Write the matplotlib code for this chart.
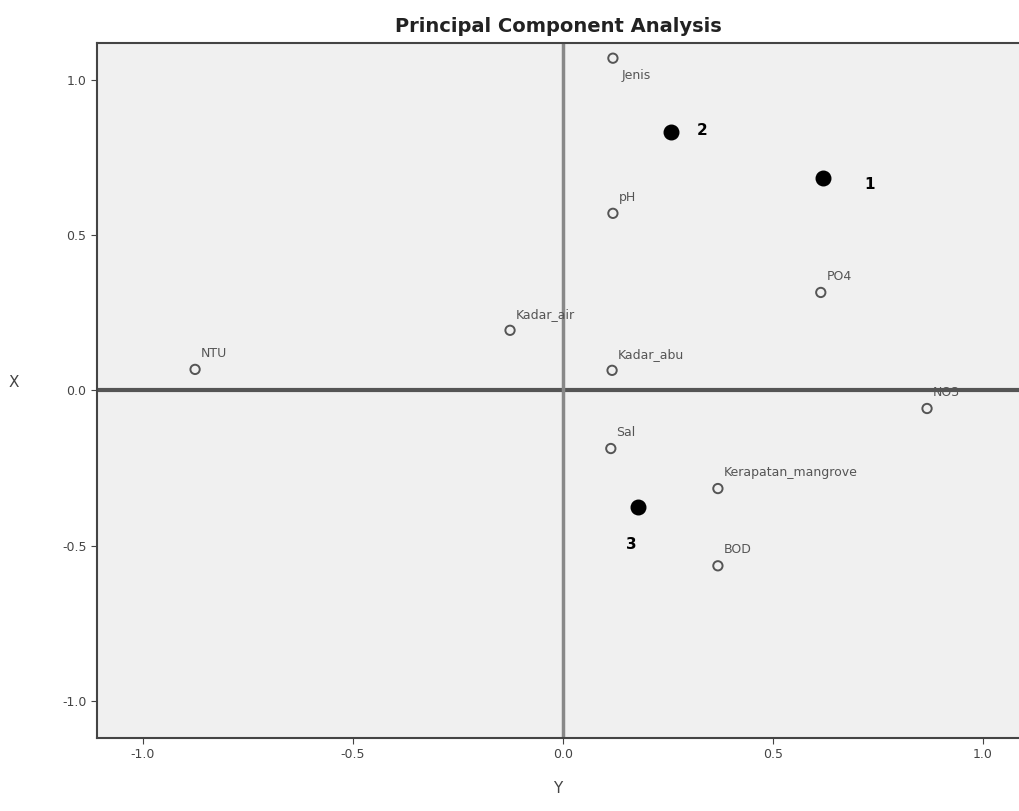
import matplotlib.pyplot as plt

# variable loadings (component Y on x axis, component X on y axis)
var_names = ['Jenis', 'pH', 'PO4', 'Kadar_air', 'Kadar_abu', 'NTU', 'NO3', 'Sal',
             'Kerapatan_mangrove', 'BOD']
var_x = [0.119, 0.119, 0.614, -0.126, 0.117, -0.876, 0.867, 0.114, 0.369, 0.369]
var_y = [1.071, 0.571, 0.316, 0.194, 0.065, 0.068, -0.058, -0.187, -0.316, -0.565]

# cluster / group centres
grp_names = ['1', '2', '3']
grp_x = [0.619, 0.257, 0.179]
grp_y = [0.684, 0.832, -0.377]
grp_label_off = [(0.11, -0.02), (0.075, 0.005), (-0.015, -0.12)]

fig = plt.figure(figsize=(10.19, 8.11), dpi=100)
ax = fig.add_axes([0.095, 0.09, 0.905, 0.857])
ax.set_facecolor('#f0f0f0')

ax.axhline(0, color='#555555', lw=3, zorder=1)
ax.axvline(0, color='#888888', lw=2.5, zorder=1)

ax.scatter(var_x, var_y, s=45, facecolors='none', edgecolors='#555555', linewidths=1.4, zorder=3)
for name, x, y in zip(var_names, var_x, var_y):
    if name == 'Jenis':
        # label sits under the point in the original
        ax.annotate(name, (x, y), xytext=(6, -8), textcoords='offset points',
                    fontsize=9, color='#555555', ha='left', va='top')
    else:
        ax.annotate(name, (x, y), xytext=(4, 7), textcoords='offset points',
                    fontsize=9, color='#555555', ha='left', va='bottom')

ax.scatter(grp_x, grp_y, s=110, color='black', zorder=4)
for name, x, y, (dx, dy) in zip(grp_names, grp_x, grp_y, grp_label_off):
    ax.text(x + dx, y + dy, name, fontsize=11, fontweight='bold', ha='center', va='center')

ax.set_xlim(-1.11, 1.086)
ax.set_ylim(-1.12, 1.12)
ax.set_xticks([-1.0, -0.5, 0.0, 0.5, 1.0])
ax.set_yticks([-1.0, -0.5, 0.0, 0.5, 1.0])
ax.set_xticklabels(['-1.0', '-0.5', '0.0', '0.5', '1.0'])
ax.set_yticklabels(['-1.0', '-0.5', '0.0', '0.5', '1.0'])
ax.tick_params(labelsize=9, colors='#444444', length=4)
for s in ax.spines.values():
    s.set_color('#444444')
    s.set_linewidth(1.5)
ax.spines['right'].set_visible(False)

ax.set_xlabel('Y', fontsize=11, color='#444444', labelpad=14)
ax.set_ylabel('X', fontsize=11, color='#444444', rotation=0, labelpad=30)
ax.yaxis.set_label_coords(-0.09, 0.5)
ax.set_title('Principal Component Analysis', fontsize=14, fontweight='bold', color='#222222', pad=8)

fig.savefig('out.png', dpi=100)
